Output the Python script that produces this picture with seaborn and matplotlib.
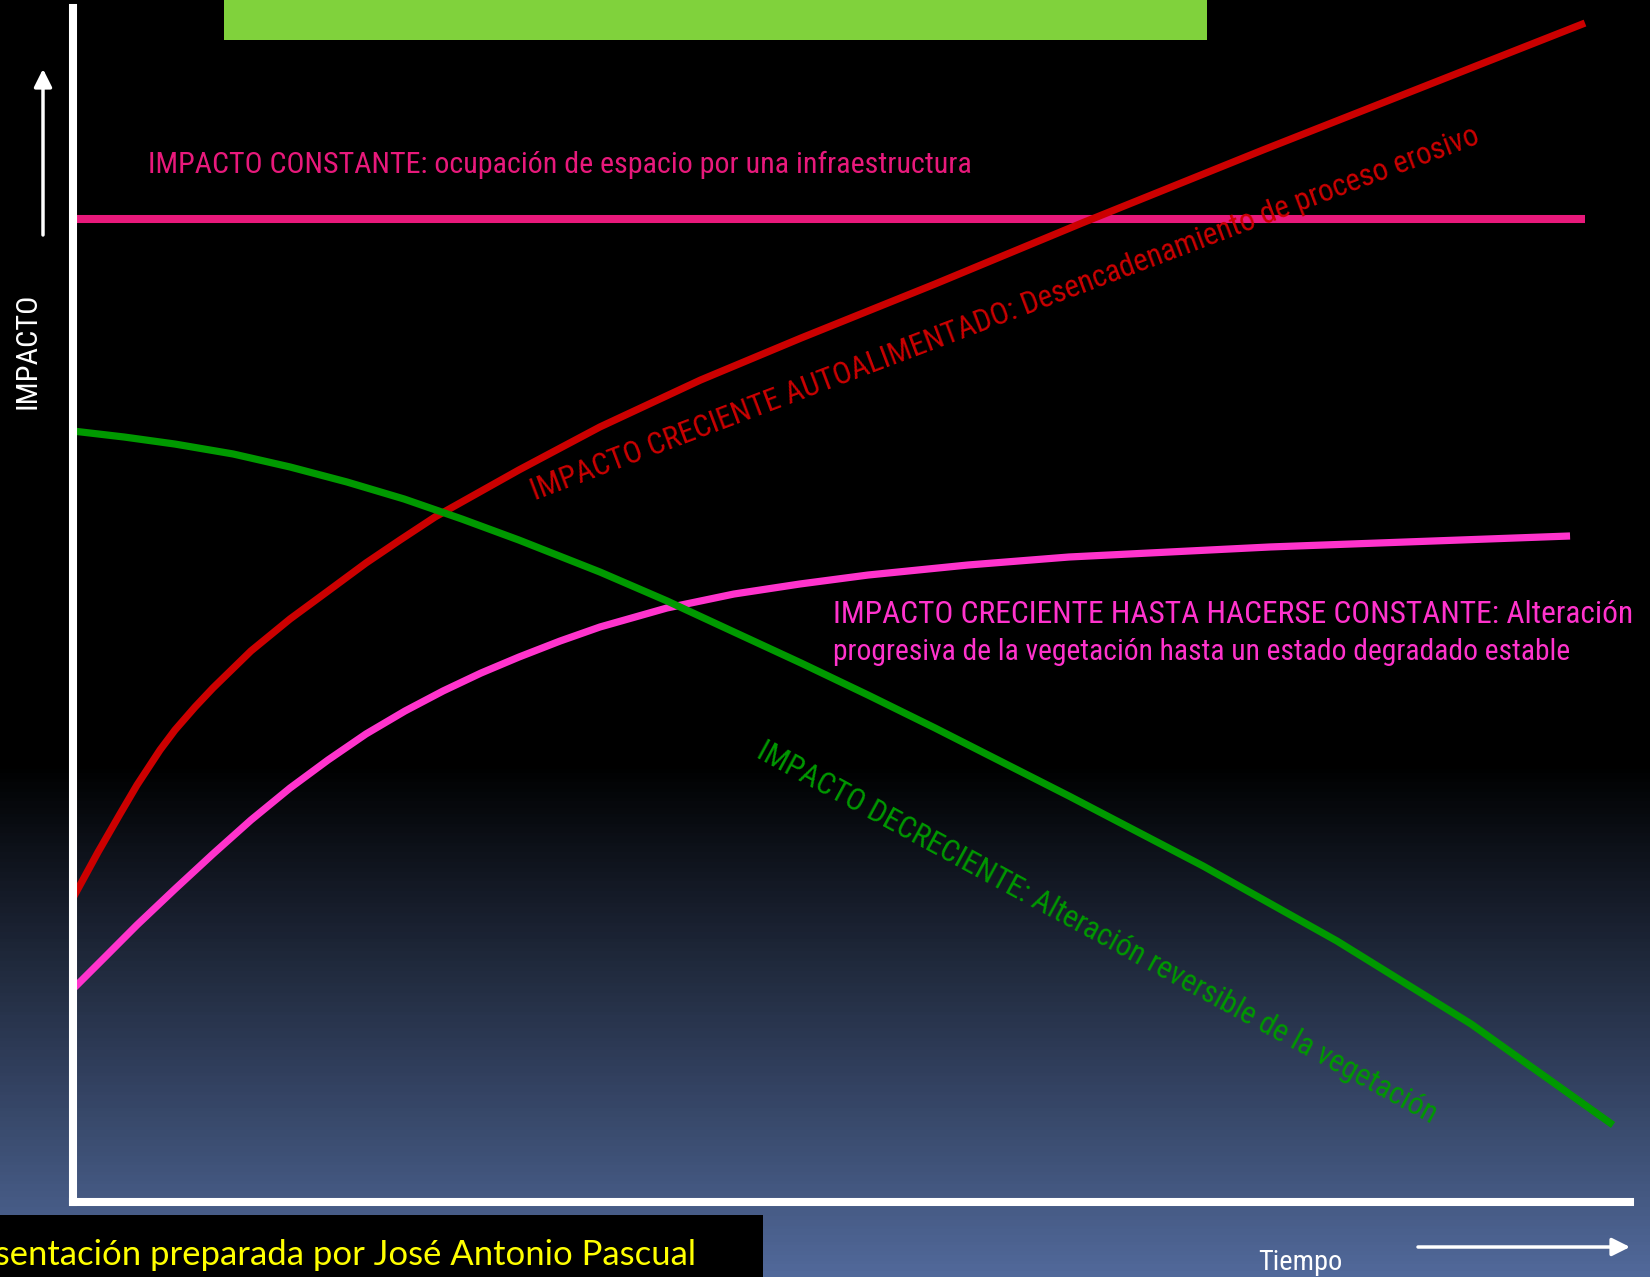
# ==========================================
# TIPOS DE IMPACTO EN EL TIEMPO
# ==========================================

import numpy as np
import pandas as pd
import matplotlib
matplotlib.use("Agg")
import matplotlib.pyplot as plt
import seaborn as sns
from matplotlib.colors import LinearSegmentedColormap
from matplotlib.patches import Rectangle

# ==========================================
# DATA (tiempo 0-100, impacto 0-100)
# ==========================================

tiempo_const = [0, 97.1]
impacto_const = [82.3, 82.3]

tiempo_rojo = [0, 1.61, 3.02, 4.11, 5.59, 6.55, 7.84, 8.99, 11.43, 13.94,
               16.38, 18.82, 21.0, 23.25, 28.64, 33.84, 40.3, 46.76, 55.36,
               64.8, 76.43, 97.11]
impacto_rojo = [25.46, 29.31, 32.5, 34.92, 37.86, 39.53, 41.46, 43.05, 46.15,
                48.83, 51.17, 53.52, 55.44, 57.37, 61.31, 64.91, 68.84,
                72.36, 76.88, 81.99, 88.11, 98.74]

tiempo_verde = [0, 3.28, 6.55, 10.28, 13.94, 17.6, 21.26, 24.98, 28.64,
                33.85, 38.15, 42.45, 46.76, 51.06, 55.36, 63.97, 72.58,
                81.18, 89.79, 98.91]
impacto_verde = [64.57, 64.07, 63.48, 62.65, 61.56, 60.3, 58.88, 57.2, 55.44,
                 52.76, 50.34, 47.74, 45.14, 42.46, 39.7, 34.0, 28.14, 21.86,
                 14.91, 6.45]

tiempo_magenta = [0, 2.06, 4.11, 6.55, 8.99, 11.43, 13.94, 16.38, 18.82,
                  21.32, 23.77, 26.2, 28.64, 31.28, 33.85, 38.15, 42.45,
                  46.69, 51.06, 57.48, 63.97, 76.88, 96.15]
impacto_magenta = [17.84, 20.52, 23.2, 26.21, 29.15, 31.99, 34.67, 37.02,
                   39.2, 41.12, 42.8, 44.3, 45.64, 46.98, 48.16, 49.75,
                   50.92, 51.76, 52.51, 53.35, 54.02, 54.86, 55.78]

etiqueta_const = "IMPACTO CONSTANTE: ocupación de espacio por una infraestructura"
etiqueta_rojo = ("IMPACTO CRECIENTE AUTOALIMENTADO: Desencadenamiento "
                 "de proceso erosivo")
etiqueta_verde = "IMPACTO DECRECIENTE: Alteración reversible de la vegetación"
etiqueta_magenta_1 = "IMPACTO CRECIENTE HASTA HACERSE CONSTANTE: Alteración"
etiqueta_magenta_2 = "progresiva de la vegetación hasta un estado degradado estable"
pie = "Presentación preparada por José Antonio Pascual"
pie_visible = "sentación preparada por José Antonio Pascual"

# ==========================================
# STYLE
# ==========================================

sns.set_theme(style="white")
NARROW = ["Liberation Sans Narrow", "Roboto Condensed", "DejaVu Sans Condensed",
          "Liberation Sans", "DejaVu Sans"]
plt.rcParams["font.family"] = NARROW
plt.rcParams["font.stretch"] = "condensed"

W, H = 1650, 1277
fig = plt.figure(figsize=(W / 100, H / 100), dpi=100)
fig.patch.set_facecolor("black")

# background gradient
bg = fig.add_axes([0, 0, 1, 1], zorder=0)
cmap = LinearSegmentedColormap.from_list(
    "fondo",
    [(0.0, "#000000"), (0.60, "#000000"), (1.0, "#51699A")]
)
bg.imshow(
    np.linspace(0, 1, 400).reshape(-1, 1),
    cmap=cmap,
    aspect="auto",
    extent=[0, 1, 0, 1],
    origin="upper"
)
bg.set_axis_off()

# ==========================================
# MAIN AXES
# ==========================================

ax = fig.add_axes(
    [73 / W, 1 - 1202 / H, (1630 - 73) / W, (1202 - 8) / H],
    zorder=1
)
ax.set_facecolor("none")

curvas = [
    (tiempo_const, impacto_const, "#E8197B", 5.8),
    (tiempo_rojo, impacto_rojo, "#CC0000", 5.2),
    (tiempo_magenta, impacto_magenta, "#FF33CC", 5.2),
    (tiempo_verde, impacto_verde, "#009900", 5.2),
]

for tx, iy, color, lw in curvas:
    df = pd.DataFrame({"Tiempo": tx, "Impacto": iy})
    sns.lineplot(
        data=df,
        x="Tiempo",
        y="Impacto",
        ax=ax,
        color=color,
        linewidth=lw,
        solid_capstyle="butt",
        solid_joinstyle="round"
    )

ax.set_xlim(0, 100)
ax.set_ylim(0, 100)
ax.set_xticks([])
ax.set_yticks([])
ax.set_xlabel("")
ax.set_ylabel("")
for side in ["top", "right"]:
    ax.spines[side].set_visible(False)
for side in ["left", "bottom"]:
    ax.spines[side].set_color("white")
    ax.spines[side].set_linewidth(5.8)

# ==========================================
# OVERLAY (pixel coordinates)
# ==========================================

ov = fig.add_axes([0, 0, 1, 1], zorder=2)
ov.set_xlim(0, W)
ov.set_ylim(H, 0)
ov.set_axis_off()
ov.patch.set_alpha(0)

ov.add_patch(Rectangle((224, 0), 1207 - 224, 40, color="#80D23C", lw=0))
ov.add_patch(Rectangle((0, 1215), 763, 62, color="black", lw=0))

flecha = dict(
    arrowstyle="-|>,head_length=0.8,head_width=0.4",
    color="white",
    lw=2.5,
    mutation_scale=13.5,
    shrinkA=0,
    shrinkB=0
)
ov.annotate("", xy=(43, 69), xytext=(43, 235), arrowprops=flecha)
ov.annotate("", xy=(1630, 1247), xytext=(1418, 1247), arrowprops=flecha)

renderer = fig.canvas.get_renderer()


def fit(t, width):
    bb = t.get_window_extent(renderer)
    t.set_fontsize(t.get_fontsize() * width / bb.width)
    return t


t = ov.text(148, 173, etiqueta_const, color="#E8197B", fontsize=22,
            ha="left", va="baseline")
fit(t, 824)

t = ov.text(535, 500, etiqueta_rojo, color="#CC0000", fontsize=22,
            ha="left", va="baseline", rotation_mode="anchor")
fit(t, 1012)
t.set_rotation(20.7)

t = ov.text(755, 757, etiqueta_verde, color="#009900", fontsize=22,
            ha="left", va="baseline", rotation_mode="anchor")
fit(t, 768)
t.set_rotation(-28.5)

t = ov.text(833, 623, etiqueta_magenta_1, color="#FF33CC", fontsize=22,
            ha="left", va="baseline")
fit(t, 800)
t = ov.text(833, 660, etiqueta_magenta_2, color="#FF33CC", fontsize=22,
            ha="left", va="baseline")
fit(t, 739)

t = ov.text(27, 351, "IMPACTO", color="white", fontsize=22,
            ha="center", va="center")
fit(t, 116)
t.set_rotation(90)

t = ov.text(1300, 1270, "Tiempo", color="white", fontsize=22,
            ha="center", va="baseline")
fit(t, 84)

# footer: only the tail of the sentence is visible
tmp = ov.text(0, 0, pie_visible, fontsize=22, family=["Lato", "DejaVu Sans"],
              stretch="normal")
size = 22 * 696 / tmp.get_window_extent(renderer).width
tmp.remove()
ov.text(696, 1265, pie, color="#FFFF00", fontsize=size,
        family=["Lato", "DejaVu Sans"], stretch="normal",
        ha="right", va="baseline")

fig.savefig("out.png", dpi=100, facecolor=fig.get_facecolor())
